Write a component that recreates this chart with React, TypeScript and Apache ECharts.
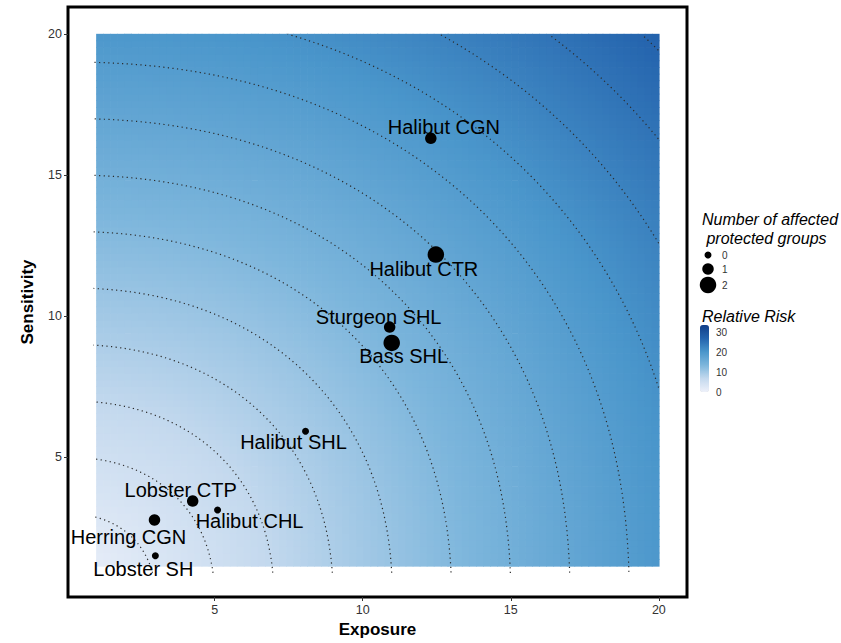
import React, { useEffect, useRef } from 'react';
import * as echarts from 'echarts';

// ---- data ----
const names = ['Halibut CGN', 'Halibut CTR', 'Sturgeon SHL', 'Bass SHL', 'Halibut SHL', 'Lobster CTP', 'Halibut CHL', 'Herring CGN', 'Lobster SH'];
const exposure = [12.3, 12.47, 10.91, 10.98, 8.07, 4.26, 5.1, 2.97, 3.0];
const sensitivity = [16.3, 12.18, 9.61, 9.05, 5.92, 3.45, 3.13, 2.78, 1.51];
const groups = [1, 2, 1, 2, 0, 1, 0, 1, 0];
const groupLevels = [0, 1, 2];
const contourLevels = [3, 5, 7, 9, 11, 13, 15, 17, 19, 21, 23, 25, 27];
const axisTicks = [5, 10, 15, 20];
const riskTicks = [0, 10, 20, 30];
const riskRange = [0, 34];

// ---- presentation ----
const FONT = "'Liberation Sans', Arial, Helvetica, sans-serif";
const labelOffsets = [[13, -11], [-12, 14], [-11, -10], [12, 13], [-12, 11], [-12, -11], [32, 11], [-26, 17], [-12, 13]];
const sizeOf = (g: number) => [7, 11.5, 16.5][g];
const NORM_P = 2.2;
const riskOf = (e: number, s: number) => Math.pow(Math.pow(e, NORM_P) + Math.pow(s, NORM_P), 1 / NORM_P);

const FILL = { x0: 1, x1: 20, y0: 1.15, y1: 20, n: 80 };
const CONTOUR_MIN = 0.9;

function buildFill() {
  const out: number[][] = [];
  const dx = (FILL.x1 - FILL.x0) / FILL.n;
  const dy = (FILL.y1 - FILL.y0) / FILL.n;
  for (let i = 0; i < FILL.n; i++) {
    for (let j = 0; j < FILL.n; j++) {
      const x = FILL.x0 + (i + 0.5) * dx;
      const y = FILL.y0 + (j + 0.5) * dy;
      out.push([x, y, riskOf(x, y)]);
    }
  }
  return { data: out, hx: dx / 2, hy: dy / 2 };
}

function buildContour(c: number) {
  const pts: number[][] = [];
  const N = 900;
  for (let k = 0; k <= N; k++) {
    const t = (k / N) * (Math.PI / 2);
    const x = c * Math.pow(Math.cos(t), 2 / NORM_P);
    const y = c * Math.pow(Math.sin(t), 2 / NORM_P);
    if (x >= CONTOUR_MIN && x <= 20 && y >= CONTOUR_MIN && y <= 20) pts.push([x, y]);
  }
  return pts;
}

export default function App() {
  const ref = useRef<HTMLDivElement>(null);
  useEffect(() => {
    if (!ref.current) return;
    const chart = echarts.init(ref.current, undefined, { renderer: 'svg' });
    const fill = buildFill();

    const contourSeries = contourLevels.map((c) => ({
      type: 'line',
      xAxisIndex: 0,
      yAxisIndex: 0,
      data: buildContour(c),
      showSymbol: false,
      symbol: 'none',
      silent: true,
      z: 3,
      lineStyle: { color: '#2b2b2b', width: 1.2, type: [1.2, 3.4] },
    }));

    const scatterData = names.map((n, i) => ({
      name: n,
      value: [exposure[i], sensitivity[i], groups[i]],
      symbolSize: sizeOf(groups[i]),
      label: { offset: labelOffsets[i] },
    }));

    const tickFmt = (v: number) => (axisTicks.indexOf(v) >= 0 ? String(v) : '');
    const riskFmt = (v: number) => (riskTicks.indexOf(v) >= 0 ? String(v) : '');

    const legendX = 708;
    const legendYs = [255, 269, 285];
    const graphic: any[] = [
      { type: 'text', x: 702, y: 219, style: { text: 'Number of affected', fontSize: 16, fontStyle: 'italic', fontFamily: FONT, fill: '#000', verticalAlign: 'middle' } },
      { type: 'text', x: 702, y: 238, style: { text: ' protected groups', fontSize: 16, fontStyle: 'italic', fontFamily: FONT, fill: '#000', verticalAlign: 'middle' } },
      { type: 'text', x: 702, y: 316, style: { text: 'Relative Risk', fontSize: 16, fontStyle: 'italic', fontFamily: FONT, fill: '#000', verticalAlign: 'middle' } },
    ];
    groupLevels.forEach((g, k) => {
      graphic.push({ type: 'circle', shape: { cx: legendX, cy: legendYs[k], r: sizeOf(g) / 2 }, style: { fill: '#000' } });
      graphic.push({ type: 'text', x: 722, y: legendYs[k], style: { text: String(g), fontSize: 10, fontFamily: FONT, fill: '#333', verticalAlign: 'middle' } });
    });

    const option: any = {
      animation: false,
      backgroundColor: '#ffffff',
      textStyle: { fontFamily: FONT },
      grid: [
        { left: 68, top: 7, width: 619, height: 595, show: true, borderColor: '#000', borderWidth: 3, backgroundColor: 'transparent' },
        { left: 700, top: 325, width: 9, height: 67, show: false },
      ],
      xAxis: [
        {
          type: 'value', gridIndex: 0, min: 0.05, max: 20.95,
          name: 'Exposure', nameLocation: 'middle', nameGap: 24,
          nameTextStyle: { fontSize: 17, fontWeight: 'bold', color: '#000', fontFamily: FONT },
          axisLine: { show: false },
          axisTick: { show: true, length: 4, customValues: axisTicks, lineStyle: { color: '#333', width: 1 } },
          axisLabel: { customValues: axisTicks, color: '#333', fontSize: 12.5, margin: 6, formatter: tickFmt },
          splitLine: { show: false },
        },
        { type: 'value', gridIndex: 1, show: false, min: 0, max: 1 },
      ],
      yAxis: [
        {
          type: 'value', gridIndex: 0, min: 0.05, max: 20.95,
          name: 'Sensitivity', nameLocation: 'middle', nameGap: 32,
          nameTextStyle: { fontSize: 17, fontWeight: 'bold', color: '#000', fontFamily: FONT },
          axisLine: { show: false },
          axisTick: { show: true, length: 4, customValues: axisTicks, lineStyle: { color: '#333', width: 1 } },
          axisLabel: { customValues: axisTicks, color: '#333', fontSize: 12.5, margin: 6, formatter: tickFmt },
          splitLine: { show: false },
        },
        {
          type: 'value', gridIndex: 1, position: 'right', min: riskRange[0], max: riskRange[1],
          axisLine: { show: false },
          axisTick: { show: true, inside: true, length: 2, customValues: riskTicks, lineStyle: { color: '#fff', width: 1 } },
          axisLabel: { customValues: riskTicks, color: '#333', fontSize: 10, margin: 7, formatter: riskFmt },
          splitLine: { show: false },
        },
      ],
      visualMap: [
        {
          type: 'continuous', seriesIndex: 0, dimension: 2,
          min: riskRange[0], max: riskRange[1],
          left: 700, top: 325, itemWidth: 9, itemHeight: 67, padding: 0,
          calculable: false, realtime: false, text: null, hoverLink: false,
          inRange: { color: ['#eef1fa', '#c4d9ee', '#7db6dc', '#4a96cb', '#2463ad', '#123f88'] },
        },
      ],
      series: [
        {
          type: 'custom',
          xAxisIndex: 0, yAxisIndex: 0,
          data: fill.data,
          encode: { x: 0, y: 1 },
          silent: true,
          z: 1,
          renderItem: (params: any, api: any) => {
            const x = api.value(0);
            const y = api.value(1);
            const p0 = api.coord([x - fill.hx, y + fill.hy]);
            const p1 = api.coord([x + fill.hx, y - fill.hy]);
            return {
              type: 'rect',
              shape: { x: p0[0], y: p0[1], width: p1[0] - p0[0] + 0.7, height: p1[1] - p0[1] + 0.7 },
              style: { fill: api.visual('color') },
            };
          },
        },
        ...contourSeries,
        {
          type: 'scatter',
          xAxisIndex: 0, yAxisIndex: 0,
          data: scatterData,
          z: 5,
          itemStyle: { color: '#000', opacity: 1 },
          label: {
            show: true, position: 'inside', formatter: '{b}',
            fontSize: 20, color: '#000', fontFamily: FONT,
            align: 'center', verticalAlign: 'middle',
          },
        },
      ],
      graphic,
    };
    chart.setOption(option);
    return () => chart.dispose();
  }, []);
  return <div ref={ref} style={{ position: 'absolute', left: 0, top: 0, width: 841, height: 643, background: '#fff' }} />;
}
